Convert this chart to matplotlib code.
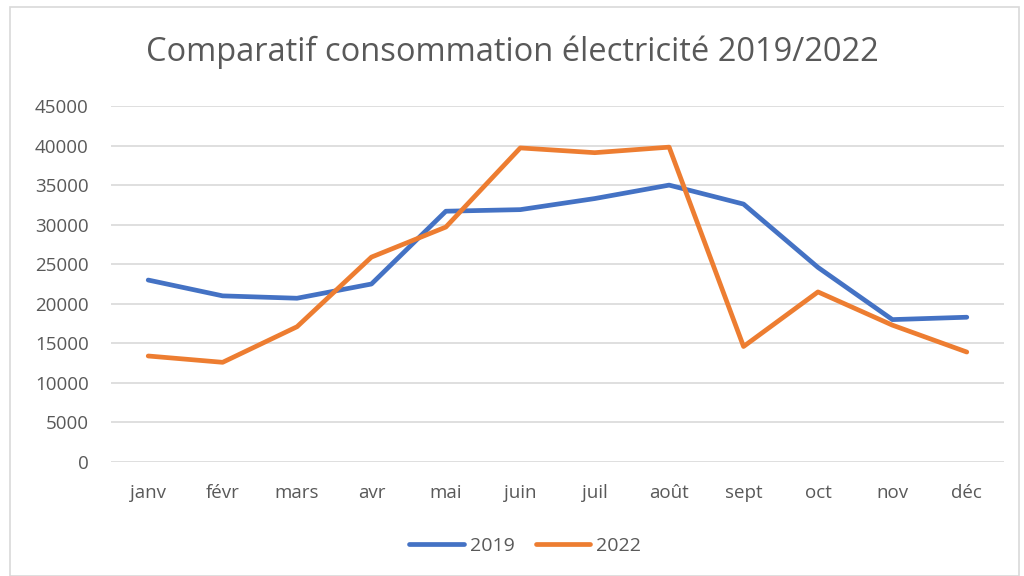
import matplotlib
matplotlib.use("Agg")
import matplotlib.pyplot as plt
from matplotlib.patches import Rectangle

months = ["janv", "févr", "mars", "avr", "mai", "juin", "juil", "août", "sept", "oct", "nov", "déc"]
y2019 = [23000, 21000, 20700, 22500, 31700, 31900, 33300, 35000, 32600, 24600, 18000, 18300]
y2022 = [13400, 12600, 17100, 25900, 29700, 39700, 39100, 39800, 14600, 21500, 17300, 13900]
yticks = [0, 5000, 10000, 15000, 20000, 25000, 30000, 35000, 40000, 45000]

plt.rcParams['font.family'] = ['Open Sans', 'DejaVu Sans']
W, H = 1024, 576
fig = plt.figure(figsize=(W/100, H/100), dpi=100)
fig.patch.set_facecolor('white')
fig.patches.append(Rectangle((10/W, 0), (1019-10)/W, (H-7)/H, transform=fig.transFigure,
                             fill=False, edgecolor='#D9D9D9', linewidth=1.2))

ax = fig.add_axes([111/W, 1-462/H, (1004-111)/W, (462-106)/H])
x = list(range(len(months)))
ax.plot(x, y2019, color='#4472C4', lw=3.4, label='2019', solid_capstyle='round', solid_joinstyle='round')
ax.plot(x, y2022, color='#ED7D31', lw=3.4, label='2022', solid_capstyle='round', solid_joinstyle='round')
ax.set_xlim(-0.5, 11.5)
ax.set_ylim(0, 45000)
ax.set_yticks(yticks)
ax.set_yticklabels([str(v) for v in yticks])
ax.set_xticks(x)
ax.set_xticklabels(months)
ax.grid(axis='y', color='#D9D9D9', lw=1.2)
ax.set_axisbelow(True)
for s in ax.spines.values():
    s.set_visible(False)
ax.tick_params(axis='both', length=0, labelsize=13.5, colors='#595959')
ax.tick_params(axis='x', pad=16)
ax.tick_params(axis='y', pad=16)

fig.text(0.5, 1-52/H, "Comparatif consommation électricité 2019/2022", ha='center', va='center',
         fontsize=23.5, color='#595959')
leg = fig.legend(loc='center', bbox_to_anchor=(0.513, 1-546/H), ncol=2, frameon=False,
                 fontsize=14, handlelength=2.8, columnspacing=1.1, handletextpad=0.3)
for t in leg.get_texts():
    t.set_color('#595959')
fig.savefig("out.png", dpi=100)
